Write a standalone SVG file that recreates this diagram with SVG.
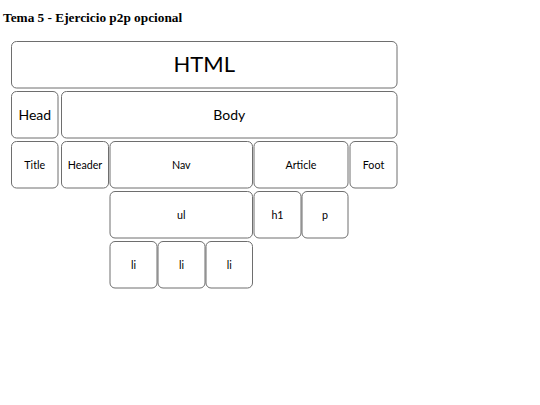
<svg xmlns="http://www.w3.org/2000/svg" width="540" height="405" viewBox="0 0 540 405">
<style>
rect{fill:#fff;stroke:#6e6e6e;stroke-width:1}
text{font-family:Lato,"Open Sans",sans-serif;fill:#000;text-anchor:middle}
.s{font-size:10.7px}
.m{font-size:14px}
.l{font-size:22px}
.t{font-family:"Liberation Serif",serif;font-weight:bold;font-size:13.3px;text-anchor:start}
</style>
<rect x="0" y="0" width="540" height="405" style="stroke:none"/>
<text class="t" x="3" y="21.5">Tema 5 - Ejercicio p2p opcional</text>
<g id="html"><rect x="11.5" y="41.5" width="385.5" height="46.5" rx="5"/><text class="l" x="204.25" y="71.7">HTML</text></g>
<g id="head"><rect x="11.5" y="91.5" width="46.5" height="46.5" rx="5"/><text class="m" x="34.75" y="119.5">Head</text></g>
<g id="body"><rect x="61.5" y="91.5" width="335.5" height="46.5" rx="5"/><text class="m" x="229.25" y="119.5">Body</text></g>
<g id="title"><rect x="11.5" y="141.5" width="46.5" height="46.5" rx="5"/><text class="s" x="34.75" y="168.5">Title</text></g>
<g id="header"><rect x="61.5" y="141.5" width="47" height="46.5" rx="5"/><text class="s" x="85" y="168.5">Header</text></g>
<g id="nav"><rect x="110" y="141.5" width="142.5" height="46.5" rx="5"/><text class="s" x="181.25" y="168.5">Nav</text></g>
<g id="article"><rect x="254" y="141.5" width="94" height="46.5" rx="5"/><text class="s" x="301" y="168.5">Article</text></g>
<g id="foot"><rect x="350" y="141.5" width="47" height="46.5" rx="5"/><text class="s" x="373.5" y="168.5">Foot</text></g>
<g id="ul"><rect x="110" y="191.5" width="142.5" height="46.5" rx="5"/><text class="s" x="181.25" y="218.5">ul</text></g>
<g id="h1"><rect x="254" y="191.5" width="47" height="46.5" rx="5"/><text class="s" x="277.5" y="218.5">h1</text></g>
<g id="p"><rect x="302" y="191.5" width="46" height="46.5" rx="5"/><text class="s" x="325" y="218.5">p</text></g>
<g id="li1"><rect x="110" y="241.5" width="47" height="46.5" rx="5"/><text class="s" x="133.5" y="268.5">li</text></g>
<g id="li2"><rect x="158" y="241.5" width="47" height="46.5" rx="5"/><text class="s" x="181.5" y="268.5">li</text></g>
<g id="li3"><rect x="206" y="241.5" width="46.5" height="46.5" rx="5"/><text class="s" x="229.25" y="268.5">li</text></g>
<g id="connectors"/>
</svg>
